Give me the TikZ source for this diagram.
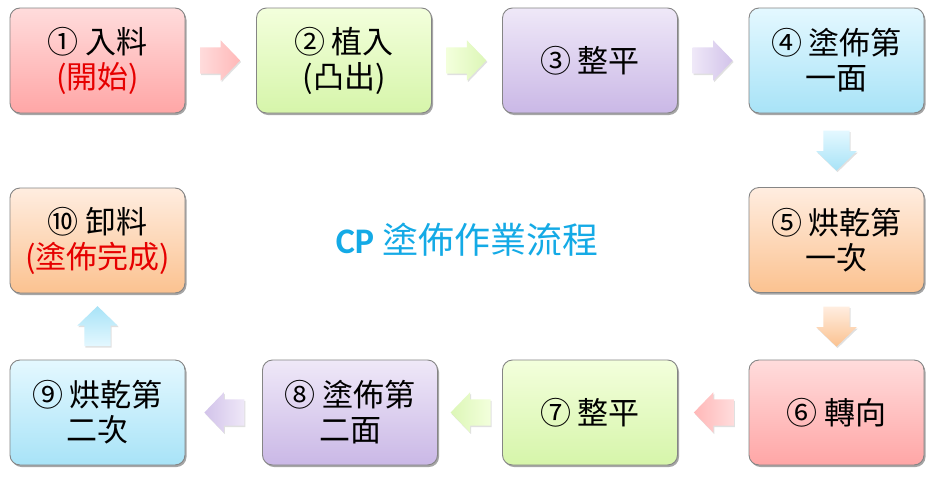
\documentclass[tikz,border=0pt]{standalone}
\usepackage{fontspec}
\setmainfont{Noto Sans CJK TC}
\newfontfamily\latbold{Carlito}
\usetikzlibrary{shapes.arrows,shadows,calc}
\definecolor{pinkT}{HTML}{FFDCDC}
\definecolor{pinkB}{HTML}{FFA6A6}
\definecolor{greenT}{HTML}{F3FFDC}
\definecolor{greenB}{HTML}{D6F5AA}
\definecolor{purpT}{HTML}{EFE8F8}
\definecolor{purpB}{HTML}{CAB8E6}
\definecolor{cyanT}{HTML}{E4F8FF}
\definecolor{cyanB}{HTML}{A8E3F7}
\definecolor{oranT}{HTML}{FFEDE0}
\definecolor{oranB}{HTML}{FBC290}
\definecolor{boxline}{HTML}{858585}
\definecolor{redtext}{HTML}{E60000}
\definecolor{titleblue}{HTML}{14AAE6}
\tikzset{
  stepbox/.style={draw=boxline, line width=0.9pt, rounded corners=10pt,
    minimum width=175pt, minimum height=105pt, inner sep=0pt, align=center,
    font=\fontsize{31}{35}\selectfont,
    drop shadow={shadow xshift=1.5pt, shadow yshift=-2pt, opacity=0.35, fill=black}},
  pinkbox/.style={top color=pinkT, bottom color=pinkB},
  greenbox/.style={top color=greenT, bottom color=greenB},
  purpbox/.style={top color=purpT, bottom color=purpB},
  cyanbox/.style={top color=cyanT, bottom color=cyanB},
  oranbox/.style={top color=oranT, bottom color=oranB},
  blockarrow/.style={single arrow, draw=none,
    minimum height=40pt, minimum width=40pt,
    single arrow head extend=7pt, single arrow tip angle=92,
    drop shadow={shadow xshift=1pt, shadow yshift=-1.5pt, opacity=0.12, fill=black}},
  toright/.style={shape border rotate=0, inner xsep=0pt, inner ysep=13pt, xshift=-7pt},
  toleft/.style={shape border rotate=180, inner xsep=0pt, inner ysep=13pt, xshift=7pt},
  todown/.style={shape border rotate=270, inner ysep=0pt, inner xsep=13pt, yshift=6pt},
  toup/.style={shape border rotate=90, inner ysep=0pt, inner xsep=13pt, yshift=-6pt},
}
\begin{document}
\begin{tikzpicture}[x=1pt,y=-1pt]
\useasboundingbox (0,0) rectangle (935,477);
\fill[white] (0,0) rectangle (935,477);

\node[stepbox, pinkbox]  (b1)  at (97.5,60.5)  {① 入料\\\textcolor{redtext}{(開始)}};
\node[stepbox, greenbox] (b2)  at (344,60.5)   {② 植入\\(凸出)};
\node[stepbox, purpbox]  (b3)  at (590,60.5)   {③ 整平};
\node[stepbox, cyanbox]  (b4)  at (836.5,60.5) {④ 塗佈第\\一面};
\node[stepbox, oranbox]  (b5)  at (836.5,240)  {⑤ 烘乾第\\一次};
\node[stepbox, pinkbox]  (b6)  at (836.5,412.5){⑥ 轉向};
\node[stepbox, greenbox] (b7)  at (590,412.5)  {⑦ 整平};
\node[stepbox, purpbox]  (b8)  at (350,412.5)  {⑧ 塗佈第\\二面};
\node[stepbox, cyanbox]  (b9)  at (97.5,412.5) {⑨ 烘乾第\\二次};
\node[stepbox, oranbox]  (b10) at (97.5,240.5) {⑩ 卸料\\\textcolor{redtext}{(塗佈完成)}};

\node[font=\fontsize{36}{40}\selectfont, text=titleblue] (title) at (467,240)
  {{\latbold\bfseries CP} 塗佈作業流程};

\node[blockarrow, toright, left color=pinkT, right color=pinkB!80] (a1) at ($(b1.east)!0.5!(b2.west)$) {};
\node[blockarrow, toright, left color=greenT, right color=greenB!85] (a2) at ($(b2.east)!0.5!(b3.west)$) {};
\node[blockarrow, toright, left color=purpT, right color=purpB!85] (a3) at ($(b3.east)!0.5!(b4.west)$) {};
\node[blockarrow, todown, top color=cyanT, bottom color=cyanB] (a4) at ($(b4.south)!0.5!(b5.north)$) {};
\node[blockarrow, todown, top color=oranT, bottom color=oranB] (a5) at ($(b5.south)!0.5!(b6.north)$) {};
\node[blockarrow, toleft, right color=pinkT, left color=pinkB!80] (a6) at ($(b6.west)!0.5!(b7.east)$) {};
\node[blockarrow, toleft, right color=greenT, left color=greenB!85] (a7) at ($(b7.west)!0.5!(b8.east)$) {};
\node[blockarrow, toleft, right color=purpT, left color=purpB!85] (a8) at ($(b8.west)!0.5!(b9.east)$) {};
\node[blockarrow, toup, bottom color=cyanT, top color=cyanB] (a9) at ($(b9.north)!0.5!(b10.south)$) {};
\end{tikzpicture}
\end{document}
